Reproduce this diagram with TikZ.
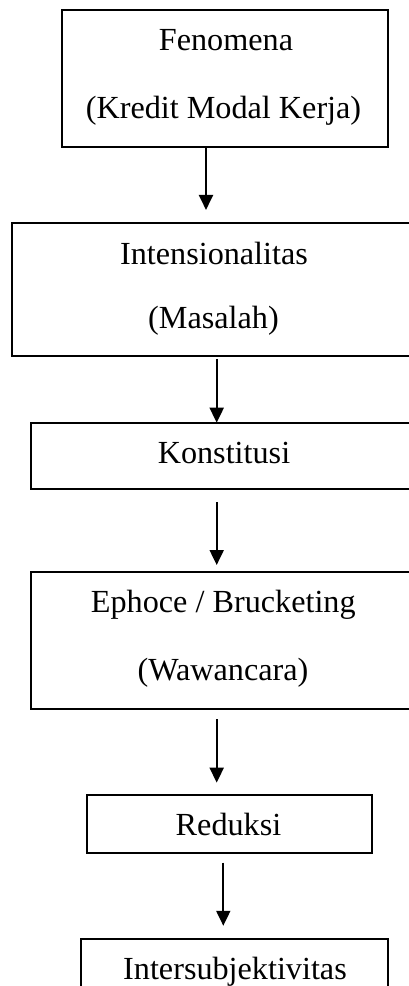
\documentclass[tikz,border=0pt]{standalone}
\usepackage{fontspec}
\setmainfont{Liberation Serif}
\usetikzlibrary{arrows.meta}
\begin{document}
\begin{tikzpicture}[x=1pt,y=-1pt,
  box/.style={draw=black,line width=2pt,rectangle,inner sep=0pt,outer sep=0pt},
  lbl/.style={anchor=base,inner sep=0pt,font=\fontsize{32.2}{38}\selectfont},
  arr/.style={line width=2pt,-{Triangle[length=15pt,width=14pt]}}]
\useasboundingbox (0,0) rectangle (409,986);
% boxes
\node[box,minimum width=325.7pt,minimum height=136.7pt] (b1) at (225.2,78.3) {};
\node[box,minimum width=403.7pt,minimum height=133.3pt] (b2) at (214.2,289.3) {};
\node[box,minimum width=386.3pt,minimum height=66pt] (b3) at (223.8,456.3) {};
\node[box,minimum width=385pt,minimum height=137pt] (b4) at (223.5,640.8) {};
\node[box,minimum width=284.7pt,minimum height=57.7pt] (b5) at (229.7,823.8) {};
\node[box,minimum width=307pt,minimum height=80.7pt] (b6) at (234.5,979.7) {};
% texts
\node[lbl] (t1a) at (226,50.7) {Fenomena};
\node[lbl] (t1b) at (223.5,118) {(Kredit Modal Kerja)};
\node[lbl] (t2a) at (214,264) {Intensionalitas};
\node[lbl] (t2b) at (213.5,328) {(Masalah)};
\node[lbl] (t3) at (224,463) {Konstitusi};
\node[lbl] (t4a) at (223.3,612) {Ephoce / Brucketing};
\node[lbl] (t4b) at (223,680) {(Wawancara)};
\node[lbl] (t5) at (228.5,835) {Reduksi};
\node[lbl] (t6) at (235,979) {Intersubjektivitas};
% arrow columns
\coordinate (c1) at (206,0);
\coordinate (c2) at (216.7,0);
\coordinate (c5) at (223.3,0);
% arrows
\draw[arr,shorten <=0.3pt,shorten >=12.7pt] (b1.south -| c1) -- (b2.north -| c1);
\draw[arr,shorten <=3pt,shorten >=0.6pt] (b2.south -| c2) -- (b3.north -| c2);
\draw[arr,shorten <=12.7pt,shorten >=7.3pt] (b3.south -| c2) -- (b4.north -| c2);
\draw[arr,shorten <=10pt,shorten >=12.3pt] (b4.south -| c2) -- (b5.north -| c2);
\draw[arr,shorten <=10pt,shorten >=13.6pt] (b5.south -| c5) -- (b6.north -| c5);
\end{tikzpicture}
\end{document}
